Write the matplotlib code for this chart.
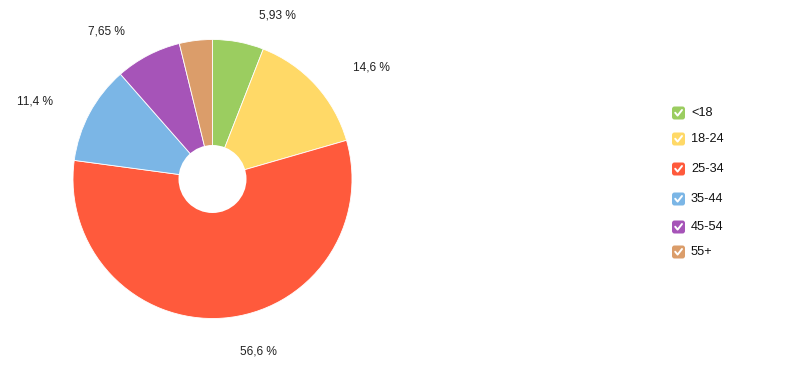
import matplotlib
matplotlib.use("Agg")
import matplotlib.pyplot as plt
from matplotlib.patches import FancyBboxPatch, Circle
import numpy as np

categories = ["<18", "18-24", "25-34", "35-44", "45-54", "55+"]
values = [5.93, 14.6, 56.6, 11.4, 7.65, 3.82]
value_labels = ["5,93 %", "14,6 %", "56,6 %", "11,4 %", "7,65 %", ""]
colors = ["#9BCD60", "#FFD967", "#FF5A3C", "#7BB6E6", "#A654B8", "#DB9D6A"]

W, H = 808, 368
fig = plt.figure(figsize=(W / 100, H / 100), dpi=100)
ax = fig.add_axes([0, 0, 1, 1])
ax.set_xlim(0, W)
ax.set_ylim(0, H)
ax.set_aspect("equal")
ax.axis("off")

cx, cy, R = 212.5, H - 179, 139.5
wedges, _ = ax.pie(values, colors=colors, startangle=90, counterclock=False,
                   center=(cx, cy), radius=R, frame=True,
                   wedgeprops=dict(edgecolor="white", linewidth=0.6))
ax.set_xlim(0, W)
ax.set_ylim(0, H)
ax.axis("off")
ax.add_patch(Circle((cx, cy), 34, facecolor="white", edgecolor="none", zorder=5))

# label layout (pixel positions of label centres)
label_pos = [(277, 15), (371, 67), (258, 351), (35, 101), (106, 32), None]
for lab, pos in zip(value_labels, label_pos):
    if pos is None or not lab:
        continue
    ax.text(pos[0], H - pos[1], lab, ha="center", va="center",
            fontsize=8.6, family="Liberation Sans", color="#222222")

# legend with checkbox markers
leg_y = [113, 139, 169, 199, 227, 252]
bx, bs = 672, 13
for cat, col, yy in zip(categories, colors, leg_y):
    y0 = H - yy
    box = FancyBboxPatch((bx, y0 - bs / 2), bs, bs,
                         boxstyle="round,pad=0,rounding_size=2.5",
                         facecolor=col, edgecolor="none")
    ax.add_patch(box)
    ax.plot([bx + 3.2, bx + 5.6, bx + 10], [y0 + 0.3, y0 - 2.6, y0 + 3],
            color="white", lw=1.4, solid_capstyle="round", solid_joinstyle="round")
    ax.text(bx + 19, y0, cat, ha="left", va="center", fontsize=9.2,
            family="Liberation Sans", color="#111111")

fig.savefig("out.png", dpi=100, facecolor="white")
